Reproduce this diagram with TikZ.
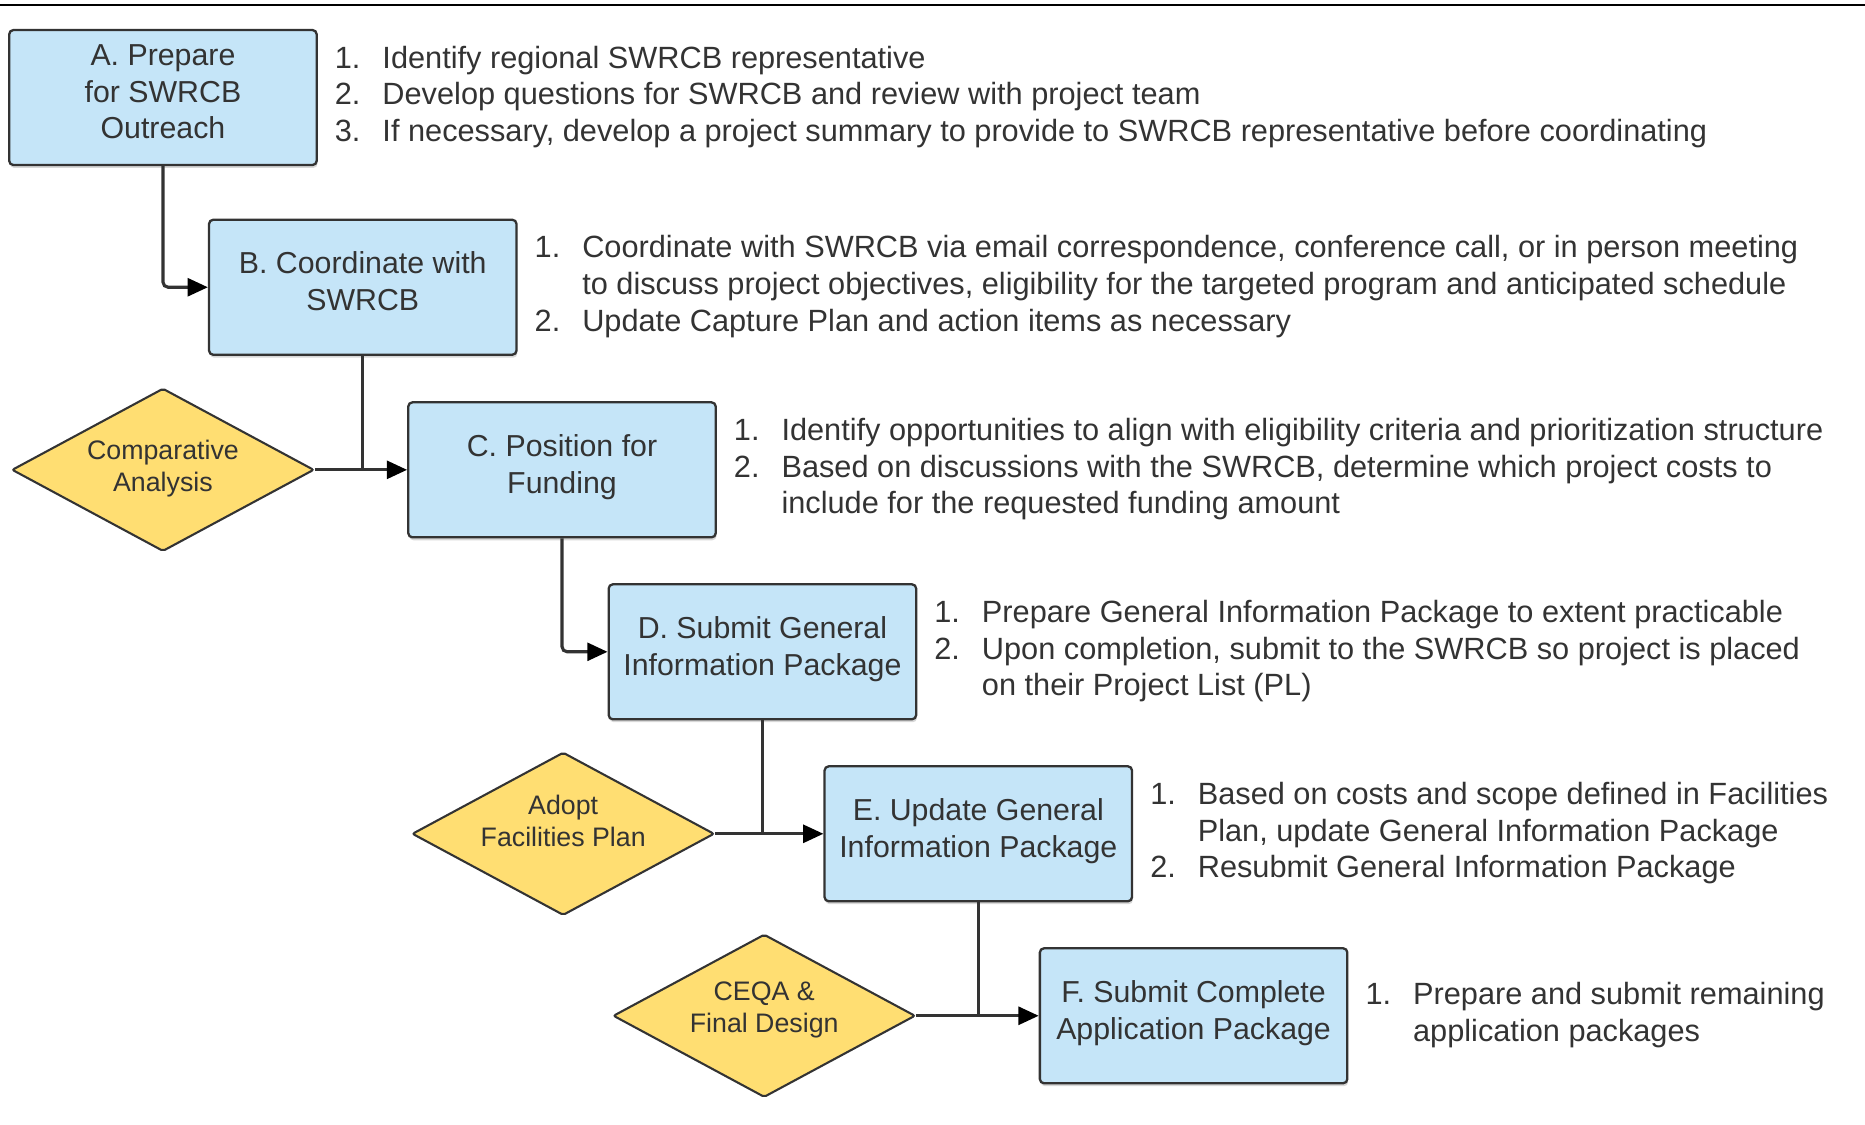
\documentclass[tikz,border=0pt]{standalone}
\usepackage{fontspec}
\setmainfont{Liberation Sans}
\usepackage{xcolor}
\usepackage{tikz}
\usetikzlibrary{positioning,arrows.meta,shapes.geometric,shadows}

\definecolor{boxblue}{HTML}{C5E5F8}
\definecolor{diayellow}{HTML}{FFDE72}
\definecolor{inkgray}{HTML}{333333}

\tikzset{
  stage/.style={draw=inkgray, line width=1.1pt, fill=boxblue, rounded corners=2pt,
    minimum width=5.17cm, minimum height=2.27cm, align=center, text=inkgray,
    text depth=0.2cm, font=\fontsize{14.5}{17.5}\selectfont,
    drop shadow={shadow xshift=0.4pt, shadow yshift=-1.4pt, fill=black!30, opacity=0.5}},
  decision/.style={diamond, aspect=1.85, draw=inkgray, line width=1pt, fill=diayellow,
    rounded corners=1pt, minimum width=5.08cm, minimum height=2.74cm, inner sep=0pt},
  dtext/.style={inner sep=0pt, align=center, text=inkgray, font=\fontsize{12.8}{15.4}\selectfont},
  steps/.style={inner sep=0pt, text=inkgray, font=\fontsize{14.7}{17.5}\selectfont},
  link/.style={draw=inkgray, line width=1.5pt, rounded corners=2.5pt},
  flow/.style={link, -{Triangle[length=0.34cm,width=0.3cm,fill=black,color=black]}}
}

\begin{document}
\begin{tikzpicture}
\useasboundingbox (0,0) rectangle (31.36,-18.9);

% Top rule
\draw[line width=1.2pt] (0,-0.08) -- (31.36,-0.08);

% Stages
\node[stage] (A) at (2.74,-1.64) {A. Prepare\\for SWRCB\\Outreach};
\node[stage] (B) at (6.10,-4.83) {B. Coordinate with\\SWRCB};
\node[stage] (C) at (9.45,-7.90) {C. Position for\\Funding};
\node[stage] (D) at (12.82,-10.96) {D. Submit General\\Information Package};
\node[stage] (E) at (16.45,-14.02) {E. Update General\\Information Package};
\node[stage] (F) at (20.07,-17.08) {F. Submit Complete\\Application Package};

% Decisions
\node[decision] (cmp) at (2.74,-7.90) {};
\node[decision] (fac) at (9.47,-14.02) {};
\node[decision] (ceqa) at (12.85,-17.08) {};
\node[dtext, yshift=0.02cm] (cmpText) at (cmp) {Comparative\\Analysis};
\node[dtext, yshift=0.22cm] (facText) at (fac) {Adopt\\Facilities Plan};
\node[dtext, yshift=0.10cm] (ceqaText) at (ceqa) {CEQA \&\\Final Design};

% Action items
\node[steps, right=0.28cm of A] (Alist) {\begin{tabular}{@{}p{0.8cm}@{}l@{}}
1. & Identify regional SWRCB representative\\
2. & Develop questions for SWRCB and review with project team\\
3. & If necessary, develop a project summary to provide to SWRCB representative before coordinating
\end{tabular}};
\node[steps, right=0.28cm of B] (Blist) {\begin{tabular}{@{}p{0.8cm}@{}l@{}}
1. & Coordinate with SWRCB via email correspondence, conference call, or in person meeting\\
   & to discuss project objectives, eligibility for the targeted program and anticipated schedule\\
2. & Update Capture Plan and action items as necessary
\end{tabular}};
\node[steps, right=0.28cm of C] (Clist) {\begin{tabular}{@{}p{0.8cm}@{}l@{}}
1. & Identify opportunities to align with eligibility criteria and prioritization structure\\
2. & Based on discussions with the SWRCB, determine which project costs to\\
   & include for the requested funding amount
\end{tabular}};
\node[steps, right=0.28cm of D] (Dlist) {\begin{tabular}{@{}p{0.8cm}@{}l@{}}
1. & Prepare General Information Package to extent practicable\\
2. & Upon completion, submit to the SWRCB so project is placed\\
   & on their Project List (PL)
\end{tabular}};
\node[steps, right=0.28cm of E] (Elist) {\begin{tabular}{@{}p{0.8cm}@{}l@{}}
1. & Based on costs and scope defined in Facilities\\
   & Plan, update General Information Package\\
2. & Resubmit General Information Package
\end{tabular}};
\node[steps, right=0.28cm of F] (Flist) {\begin{tabular}{@{}p{0.8cm}@{}l@{}}
1. & Prepare and submit remaining\\
   & application packages
\end{tabular}};

% Connectors
\draw[flow] (A.south) |- (B.west);
\draw[link] (B.south) -- (B.south |- C.west);
\draw[flow] (cmp.east) -- (C.west);
\draw[flow] (C.south) |- (D.west);
\draw[link] (D.south) -- (D.south |- E.west);
\draw[flow] (fac.east) -- (E.west);
\draw[link] (E.south) -- (E.south |- F.west);
\draw[flow] (ceqa.east) -- (F.west);
\end{tikzpicture}
\end{document}
